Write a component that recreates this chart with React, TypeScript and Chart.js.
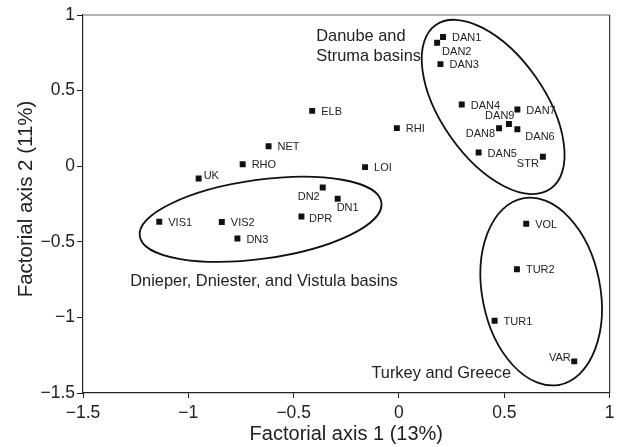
import { useEffect, useRef } from 'react';
import { Chart, registerables } from 'chart.js';

Chart.register(...registerables);

const FONT = '"Liberation Sans", Arial, Helvetica, sans-serif';

// Sites (categories)
const siteNames = ['DAN1', 'DAN2', 'DAN3', 'DAN4', 'DAN5', 'DAN6', 'DAN7', 'DAN8', 'DAN9', 'STR', 'ELB', 'RHI', 'NET', 'RHO', 'UK', 'LOI', 'DN1', 'DN2', 'DN3', 'DPR', 'VIS1', 'VIS2', 'VOL', 'TUR1', 'TUR2', 'VAR'];
// Factorial axis 1 (13%)
const axis1Values = [0.209, 0.181, 0.197, 0.298, 0.378, 0.562, 0.562, 0.475, 0.522, 0.683, -0.412, -0.010, -0.619, -0.742, -0.951, -0.161, -0.291, -0.362, -0.767, -0.463, -1.138, -0.841, 0.604, 0.454, 0.560, 0.832];
// Factorial axis 2 (11%)
const axis2Values = [0.854, 0.817, 0.675, 0.408, 0.090, 0.244, 0.375, 0.251, 0.279, 0.063, 0.366, 0.252, 0.132, 0.013, -0.081, -0.006, -0.215, -0.141, -0.478, -0.333, -0.367, -0.369, -0.380, -1.022, -0.682, -1.291];

const xTickValues = [-1.5, -1, -0.5, 0, 0.5, 1];
const yTickValues = [-1.5, -1, -0.5, 0, 0.5, 1];

const xTitle = 'Factorial axis 1 (13%)';
const yTitle = 'Factorial axis 2 (11%)';

// label offsets relative to each marker: [dx, dy, align]
const labelPlacement: Record<string, [number, number, CanvasTextAlign]> = {
  DAN2: [5, 9, 'left'],
  DAN9: [5.5, -8, 'right'],
  DAN8: [-4, 5.5, 'right'],
  DAN6: [8, 8, 'left'],
  STR: [-4, 7, 'right'],
  UK: [5, -2, 'left'],
  DN2: [-3, 9.7, 'right'],
  DN1: [-1, 9.4, 'left'],
  DPR: [7.5, 2, 'left'],
  VAR: [-3.5, -3, 'right'],
};
const defaultPlacement: [number, number, CanvasTextAlign] = [9, 1, 'left'];

// group annotations
const groupTexts = [
  { lines: ['Danube and', 'Struma basins'], x: -0.393, y: 0.861 },
  { lines: ['Dnieper, Dniester, and Vistula basins'], x: -1.276, y: -0.76 },
  { lines: ['Turkey and Greece'], x: -0.131, y: -1.371 },
];
const groupEllipses = [
  { cx: 0.447, cy: 0.392, a: 100, b: 52, rot: 55 },
  { cx: -0.657, cy: -0.351, a: 122, b: 39.5, rot: -7.9 },
  { cx: 0.675, cy: -0.829, a: 95, b: 59, rot: 78.9 },
];

const fmt = (v: number | string) => {
  const n = Number(v);
  return n < 0 ? '\u2212' + String(Math.abs(n)) : String(n);
};

const annotPlugin = {
  id: 'annot',
  afterDatasetsDraw(chart: any) {
    const { ctx, chartArea } = chart;
    const xs = chart.scales.x;
    const ys = chart.scales.y;
    ctx.save();
    // frame top/right
    ctx.strokeStyle = '#9a9a9a';
    ctx.lineWidth = 1.5;
    ctx.beginPath();
    ctx.moveTo(chartArea.left, chartArea.top);
    ctx.lineTo(chartArea.right, chartArea.top);
    ctx.stroke();
    ctx.strokeStyle = '#333';
    ctx.lineWidth = 1.2;
    ctx.beginPath();
    ctx.moveTo(chartArea.right, chartArea.top);
    ctx.lineTo(chartArea.right, chartArea.bottom);
    ctx.stroke();
    // ellipses
    ctx.strokeStyle = '#111';
    ctx.lineWidth = 1.8;
    for (const e of groupEllipses) {
      ctx.beginPath();
      ctx.ellipse(xs.getPixelForValue(e.cx), ys.getPixelForValue(e.cy), e.a, e.b, (e.rot * Math.PI) / 180, 0, Math.PI * 2);
      ctx.stroke();
    }
    // point labels
    ctx.fillStyle = '#222';
    ctx.textBaseline = 'middle';
    ctx.font = `11px ${FONT}`;
    siteNames.forEach((name, i) => {
      const [dx, dy, al] = labelPlacement[name] ?? defaultPlacement;
      ctx.textAlign = al;
      ctx.fillText(name, xs.getPixelForValue(axis1Values[i]) + dx, ys.getPixelForValue(axis2Values[i]) + dy);
    });
    // group texts
    ctx.font = `16.4px ${FONT}`;
    ctx.textAlign = 'left';
    for (const t of groupTexts) {
      t.lines.forEach((line, k) => {
        ctx.fillText(line, xs.getPixelForValue(t.x), ys.getPixelForValue(t.y) + k * 20.7);
      });
    }
    // y axis title
    ctx.save();
    ctx.translate(26, (chartArea.top + chartArea.bottom) / 2 - 5);
    ctx.rotate(-Math.PI / 2);
    ctx.textAlign = 'center';
    ctx.textBaseline = 'middle';
    ctx.font = `20.5px ${FONT}`;
    ctx.fillText(yTitle, 0, 0);
    ctx.restore();
    ctx.restore();
  },
};

export default function App() {
  const ref = useRef<HTMLCanvasElement>(null);
  useEffect(() => {
    document.body.style.margin = '0';
    const canvas = ref.current!;
    const chart = new Chart(canvas, {
      type: 'scatter',
      data: {
        datasets: [
          {
            data: axis1Values.map((x, i) => ({ x, y: axis2Values[i] })),
            pointStyle: 'rect',
            radius: 4.2,
            backgroundColor: '#111',
            borderWidth: 0,
          } as any,
        ],
      },
      options: {
        animation: false,
        responsive: false,
        maintainAspectRatio: false,
        devicePixelRatio: 1,
        layout: { autoPadding: false, padding: { top: 15, right: 7, left: 0, bottom: 0 } },
        plugins: { legend: { display: false }, tooltip: { enabled: false } },
        scales: {
          x: {
            type: 'linear',
            min: -1.5,
            max: 1,
            afterBuildTicks: (s: any) => {
              s.ticks = xTickValues.map((v) => ({ value: v }));
            },
            afterFit: (s: any) => {
              s.height = 54;
            },
            ticks: { callback: fmt, font: { family: FONT, size: 17.5 }, color: '#222', padding: 4.5, maxRotation: 0 },
            grid: { drawOnChartArea: false, drawTicks: true, tickLength: 5, color: '#222' },
            border: { color: '#222', width: 1.2 },
            title: { display: true, text: xTitle, font: { family: FONT, size: 20 }, color: '#222', padding: { top: 0, bottom: 1 } },
          },
          y: {
            type: 'linear',
            min: -1.5,
            max: 1,
            afterBuildTicks: (s: any) => {
              s.ticks = yTickValues.map((v) => ({ value: v }));
            },
            afterFit: (s: any) => {
              s.width = 83;
            },
            ticks: { callback: fmt, font: { family: FONT, size: 17.5 }, color: '#222', padding: 2 },
            grid: { drawOnChartArea: false, drawTicks: true, tickLength: 6, color: '#222' },
            border: { color: '#222', width: 1.2 },
            title: { display: false },
          },
        },
      } as any,
      plugins: [annotPlugin],
    });
    return () => chart.destroy();
  }, []);
  return (
    <div style={{ position: 'fixed', left: 0, top: 0, width: 619, height: 447, background: '#fff' }}>
      <canvas ref={ref} width={619} height={447} style={{ width: 619, height: 447, display: 'block' }} />
    </div>
  );
}
